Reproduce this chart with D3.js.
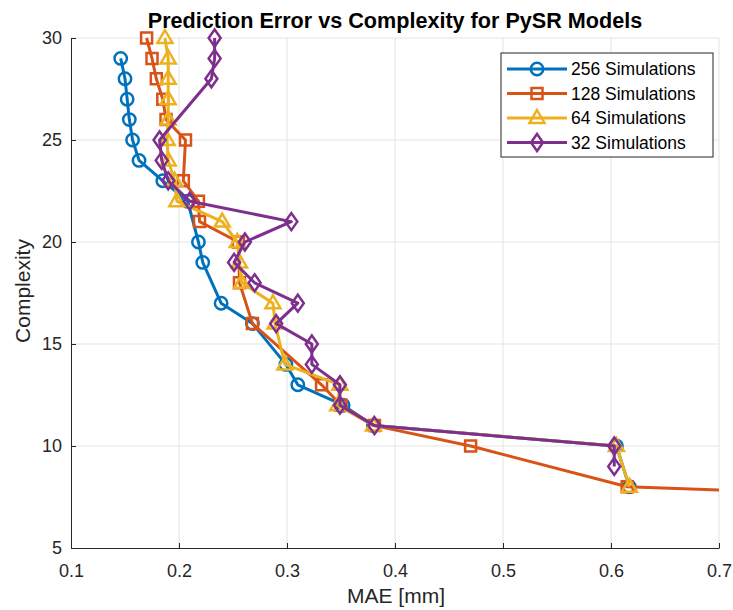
<!DOCTYPE html>
<html>
<head>
<meta charset="utf-8">
<script src="https://cdn.jsdelivr.net/npm/d3@7"></script>
<style>
  body { margin: 0; background: #fff; }
  svg { display: block; font-family: "Liberation Sans", Arial, sans-serif; }
</style>
</head>
<body>
<svg width="733" height="610"></svg>
<script>
const width = 733;
const height = 610;
const left = 71;
const right = 719;
const top_y = 38;
const bottom = 548;

const x_ticks = [0.1, 0.2, 0.3, 0.4, 0.5, 0.6, 0.7];
const y_ticks = [5, 10, 15, 20, 25, 30];

const series_names = ["256 Simulations", "128 Simulations", "64 Simulations", "32 Simulations"];
const series_colors = ["#0072BD", "#D95319", "#EDB120", "#7E2F8E"];
const series_markers = ["circle", "square", "triangle", "diamond"];

const complexity_256 = [29, 28, 27, 26, 25, 24, 23, 22, 20, 19, 17, 16, 14, 13, 12, 11, 10, 8];
const mae_256 = [0.146, 0.150, 0.152, 0.154, 0.157, 0.163, 0.185, 0.208, 0.218, 0.222, 0.239, 0.268, 0.299, 0.310, 0.352, 0.380, 0.605, 0.617];

const complexity_128 = [30, 29, 28, 27, 26, 25, 23, 22, 21, 20, 18, 16, 13, 12, 11, 10, 8, 7];
const mae_128 = [0.170, 0.175, 0.179, 0.185, 0.188, 0.206, 0.204, 0.218, 0.219, 0.255, 0.256, 0.268, 0.332, 0.350, 0.381, 0.470, 0.615, 1.150];

const complexity_64 = [30, 29, 28, 27, 26, 25, 24, 23, 22, 21, 20, 19, 18, 17, 16, 14, 13, 12, 11, 10, 8];
const mae_64 = [0.187, 0.190, 0.190, 0.190, 0.190, 0.189, 0.190, 0.196, 0.198, 0.240, 0.254, 0.256, 0.258, 0.287, 0.289, 0.298, 0.349, 0.347, 0.380, 0.605, 0.617];

const complexity_32 = [30, 29, 28, 25, 24, 23, 22, 21, 20, 19, 18, 17, 16, 15, 14, 13, 12, 11, 10, 9];
const mae_32 = [0.233, 0.233, 0.230, 0.182, 0.184, 0.190, 0.210, 0.304, 0.261, 0.251, 0.270, 0.310, 0.290, 0.323, 0.323, 0.349, 0.349, 0.381, 0.603, 0.603];

const all_complexity = [complexity_256, complexity_128, complexity_64, complexity_32];
const all_mae = [mae_256, mae_128, mae_64, mae_32];

const axis_color = "#262626";
const grid_color = "#e3e3e3";
const font = "'Liberation Sans', Arial, sans-serif";

let svg = d3.select("svg");

const x = d3.scaleLinear().domain([0.1, 0.7]).range([left, right]);
const y = d3.scaleLinear().domain([5, 30]).range([bottom, top_y]);

svg.append("defs")
  .append("clipPath")
  .attr("id", "plot-clip")
  .append("rect")
  .attr("x", left)
  .attr("y", top_y - 20)
  .attr("width", right - left)
  .attr("height", bottom - top_y + 20);

// grid lines
let grid = svg.append("g");
x_ticks.slice(1).forEach(function (t) {
  grid.append("line")
    .attr("x1", x(t)).attr("x2", x(t))
    .attr("y1", top_y).attr("y2", bottom)
    .attr("stroke", grid_color).attr("stroke-width", 1);
});
y_ticks.slice(1).forEach(function (t) {
  grid.append("line")
    .attr("x1", left).attr("x2", right)
    .attr("y1", y(t)).attr("y2", y(t))
    .attr("stroke", grid_color).attr("stroke-width", 1);
});

// axes
const x_axis = d3.axisBottom(x).tickValues(x_ticks).tickSizeInner(-5).tickSizeOuter(0).tickPadding(16)
  .tickFormat(d3.format(".1f"));
const y_axis = d3.axisLeft(y).tickValues(y_ticks).tickSizeInner(-5).tickSizeOuter(0).tickPadding(9);

let gx = svg.append("g").attr("transform", `translate(0,${bottom})`).call(x_axis);
let gy = svg.append("g").attr("transform", `translate(${left},0)`).call(y_axis);

[gx, gy].forEach(function (g) {
  g.attr("font-family", font);
  g.select(".domain").attr("stroke", axis_color).attr("stroke-width", 1);
  g.selectAll(".tick line").attr("stroke", axis_color);
  g.selectAll(".tick text")
    .attr("fill", axis_color)
    .style("font-size", "18px");
});

function MarkerPath(shape) {
  if (shape === "circle") return d3.symbol(d3.symbolCircle, 120)();
  if (shape === "square") return "M-5.5,-5.5L5.5,-5.5L5.5,5.5L-5.5,5.5Z";
  if (shape === "triangle") return "M0,-8L7.5,5L-7.5,5Z";
  return "M0,-8.5L6,0L0,8.5L-6,0Z";
}

function DrawSeries(i) {
  const pts = all_complexity[i].map(function (c, j) {
    return { c: c, m: all_mae[i][j] };
  });
  const g = svg.append("g");
  g.append("path")
    .datum(pts)
    .attr("clip-path", "url(#plot-clip)")
    .attr("d", d3.line().x(d => x(d.m)).y(d => y(d.c)))
    .attr("fill", "none")
    .attr("stroke", series_colors[i])
    .attr("stroke-width", 3)
    .attr("stroke-linejoin", "round");
  g.selectAll(".mk")
    .data(pts.filter(d => d.m <= 0.7))
    .enter()
    .append("path")
    .attr("transform", d => `translate(${x(d.m)},${y(d.c)})`)
    .attr("d", MarkerPath(series_markers[i]))
    .attr("fill", "none")
    .attr("stroke", series_colors[i])
    .attr("stroke-width", 2.5);
}

for (let i = 0; i < 4; i++) DrawSeries(i);

// legend
let legend = svg.append("g");
legend.append("rect")
  .attr("x", 501).attr("y", 53)
  .attr("width", 212).attr("height", 104)
  .attr("fill", "#fff")
  .attr("stroke", "#262626")
  .attr("stroke-width", 1);

series_names.forEach(function (name, i) {
  const ly = 69 + i * 24.5;
  legend.append("line")
    .attr("x1", 507).attr("x2", 567)
    .attr("y1", ly).attr("y2", ly)
    .attr("stroke", series_colors[i]).attr("stroke-width", 3);
  legend.append("path")
    .attr("transform", `translate(537,${ly})`)
    .attr("d", MarkerPath(series_markers[i]))
    .attr("fill", "none")
    .attr("stroke", series_colors[i])
    .attr("stroke-width", 2.5);
  legend.append("text")
    .attr("x", 571).attr("y", ly)
    .attr("dy", "0.36em")
    .attr("fill", "#000")
    .style("font-size", "17.5px")
    .text(name);
});

// title and labels
svg.append("text")
  .attr("x", 395).attr("y", 28)
  .attr("text-anchor", "middle")
  .attr("fill", "#000")
  .style("font-size", "21.6px")
  .style("font-weight", "bold")
  .text("Prediction Error vs Complexity for PySR Models");

svg.append("text")
  .attr("x", 396).attr("y", 603)
  .attr("text-anchor", "middle")
  .attr("fill", axis_color)
  .style("font-size", "21px")
  .text("MAE [mm]");

svg.append("text")
  .attr("transform", `translate(30,${(top_y + bottom) / 2 - 2}) rotate(-90)`)
  .attr("text-anchor", "middle")
  .attr("fill", axis_color)
  .style("font-size", "21px")
  .text("Complexity");
</script>
</body>
</html>
